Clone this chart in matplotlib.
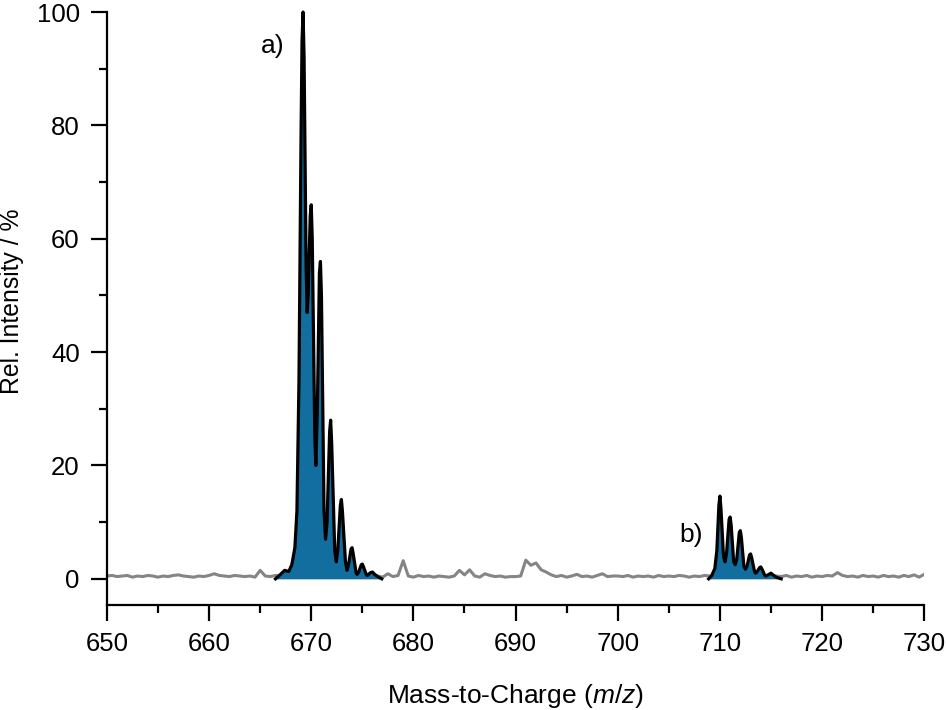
# Mass spectrum: noisy baseline in grey, two isotope clusters filled in blue

import numpy as np
from matplotlib import pyplot as plt

plt.rcParams['font.family'] = ['Liberation Sans', 'DejaVu Sans']
plt.rcParams['mathtext.fontset'] = 'custom'
plt.rcParams['mathtext.it'] = 'Liberation Sans:italic'
plt.rcParams['mathtext.rm'] = 'Liberation Sans'

# baseline trace, 0.5 m/z steps from 650 to 730
noise_start = 650.0
noise_step = 0.5
noise_int = [
    0.5, 0.6, 0.4, 0.5, 0.6, 0.3, 0.5, 0.4, 0.6, 0.5, 0.3, 0.5, 0.4, 0.6, 0.7, 0.5, 0.4, 0.3, 0.5, 0.4,   # 650
    0.6, 0.9, 0.6, 0.5, 0.4, 0.6, 0.5, 0.4, 0.5, 0.3, 1.5, 0.5, 0.4, 0.6, 0.5, 0.5, 0.5, 0.5, 0.5, 0.5,   # 660
    0.5, 0.5, 0.5, 0.5, 0.5, 0.5, 0.5, 0.5, 0.5, 0.5, 0.5, 0.5, 0.5, 0.5, 0.3, 0.9, 0.4, 0.6, 3.2, 0.5,   # 670
    0.3, 0.6, 0.4, 0.5, 0.3, 0.5, 0.4, 0.3, 0.5, 1.5, 0.7, 1.6, 0.5, 0.3, 0.9, 0.6, 0.4, 0.5, 0.3, 0.4,   # 680
    0.4, 0.5, 3.3, 2.4, 2.8, 1.6, 1.2, 0.7, 0.4, 0.6, 0.3, 0.5, 0.8, 0.4, 0.5, 0.3, 0.6, 0.9, 0.4, 0.5,   # 690
    0.5, 0.4, 0.6, 0.3, 0.5, 0.4, 0.5, 0.3, 0.6, 0.4, 0.5, 0.4, 0.6, 0.5, 0.3, 0.5, 0.4, 0.6, 0.5, 0.4,   # 700
    0.5, 0.5, 0.5, 0.5, 0.5, 0.5, 0.5, 0.5, 0.5, 0.5, 0.5, 0.5, 0.4, 0.6, 0.3, 0.5, 0.4, 0.6, 0.3, 0.5,   # 710
    0.4, 0.6, 0.5, 1.1, 0.6, 0.4, 0.5, 0.3, 0.6, 0.4, 0.5, 0.3, 0.6, 0.4, 0.5, 0.3, 0.6, 0.4, 0.7, 0.3,   # 720
    0.8,
]
noise_mz = noise_start + noise_step * np.arange(len(noise_int))

# cluster a)
a_mz = [666.5, 667.0, 667.4, 667.8, 668.1, 668.4, 668.6, 668.8, 669.0, 669.1,
        669.2, 669.3, 669.5, 669.6, 669.7, 669.9, 670.0, 670.1, 670.35, 670.45,
        670.6, 670.8, 670.9, 671.0, 671.25, 671.4, 671.55, 671.8, 671.9, 672.0,
        672.3, 672.45, 672.6, 672.85, 672.95, 673.05, 673.35, 673.5, 673.65, 673.9,
        674.0, 674.1, 674.4, 674.5, 674.65, 674.9, 675.0, 675.1, 675.4, 675.5,
        675.8, 676.0, 676.2, 676.5, 676.9]
a_int = [0.0, 0.8, 1.5, 1.3, 2.5, 5.5, 12.0, 35.0, 78.0, 95.0,
         100.0, 92.0, 55.0, 47.0, 50.0, 64.0, 66.0, 60.0, 25.0, 20.0,
         30.0, 54.0, 56.0, 50.0, 12.0, 7.0, 10.0, 26.0, 28.0, 24.0,
         5.0, 3.0, 5.0, 13.0, 14.0, 12.0, 3.0, 1.5, 2.5, 5.3,
         5.5, 4.5, 1.0, 0.8, 1.2, 2.5, 2.6, 2.2, 0.7, 0.6,
         1.1, 1.2, 0.8, 0.4, 0.0]

# cluster b)
b_mz = [708.9, 709.2, 709.5, 709.7, 709.9, 710.0, 710.1, 710.35, 710.5, 710.65,
        710.9, 711.0, 711.1, 711.35, 711.5, 711.65, 711.9, 712.0, 712.1, 712.35,
        712.5, 712.65, 712.9, 713.0, 713.1, 713.4, 713.5, 713.65, 713.9, 714.0,
        714.1, 714.4, 714.5, 714.7, 715.0, 715.2, 715.5, 716.0]
b_int = [0.0, 0.6, 1.8, 5.0, 13.0, 14.6, 12.5, 4.0, 3.0, 4.5,
         10.5, 10.9, 9.5, 3.0, 2.5, 3.5, 8.2, 8.5, 7.3, 2.2,
         1.7, 2.2, 4.2, 4.4, 3.8, 1.2, 1.0, 1.3, 2.0, 2.1,
         1.8, 0.6, 0.5, 0.7, 1.0, 0.7, 0.3, 0.0]

fig = plt.figure(figsize=(9.46, 7.10), dpi=100)
ax = fig.add_axes([0.113, 0.148, 0.864, 0.835])

ax.plot(noise_mz, noise_int, color='#858585', lw=2.2, zorder=1)
for mz, it in [(a_mz, a_int), (b_mz, b_int)]:
    ax.fill_between(mz, 0, it, color='#136ea0', lw=0, zorder=2)
    ax.plot(mz, it, color='black', lw=2.3, zorder=3, clip_on=False)

ax.text(667.4, 94, 'a)', fontsize=19, ha='right', va='center')
ax.text(708.3, 7.8, 'b)', fontsize=19, ha='right', va='center')

ax.set_xlim(650, 730)
ax.set_ylim(-4.6, 100)
ax.set_xticks(np.arange(650, 731, 10))
ax.set_xticks(np.arange(655, 730, 10), minor=True)
ax.set_yticks(np.arange(0, 101, 20))
ax.set_yticks(np.arange(10, 100, 20), minor=True)

ax.spines['top'].set_visible(False)
ax.spines['right'].set_visible(False)
for s in ['left', 'bottom']:
    ax.spines[s].set_linewidth(1.6)
ax.tick_params(which='major', length=11.5, width=1.6, labelsize=18.5, direction='out', pad=8)
ax.tick_params(which='minor', length=6, width=1.6, direction='out')

ax.set_xlabel('Mass-to-Charge ($m/z$)', fontsize=19)
ax.set_ylabel('Rel. Intensity / %', fontsize=17.8)
ax.xaxis.set_label_coords(0.5, -0.13)
ax.yaxis.set_label_coords(-0.101, 0.512)

plt.savefig('out.png', dpi=100)
